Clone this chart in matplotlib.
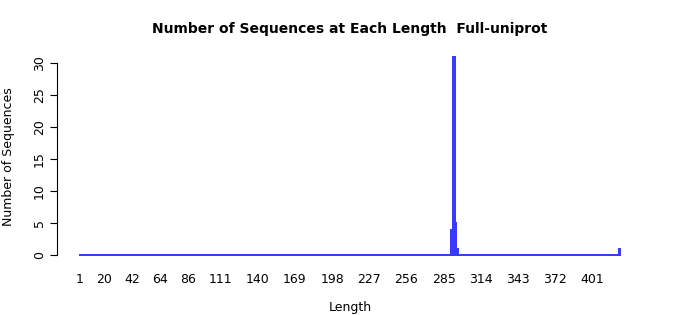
import matplotlib
matplotlib.use("Agg")
import matplotlib.pyplot as plt
import numpy as np

# sequence lengths shown on the x axis (one bar per length)
lengths = np.arange(1, 423)
# lengths that actually have sequences, and how many
hit_lengths = [291, 292, 293, 294, 295, 296, 422]
hit_counts = [4, 4, 31, 5, 1, 1, 1]
tick_labels = [1, 20, 42, 64, 86, 111, 140, 169, 198, 227, 256, 285, 314, 343, 372, 401]

counts = np.zeros(len(lengths))
for l, c in zip(hit_lengths, hit_counts):
    counts[l - 1] = c

W, H = 700, 315
fig = plt.figure(figsize=(7, 3.15), dpi=100)
ax = fig.add_axes([57 / W, (H - 263) / H, (642 - 57) / W, (263 - 49) / H])

ax.bar(lengths, counts, width=1.0, color="#3300cc", edgecolor="#3a3aff",
       linewidth=1.3, antialiased=False)

ax.set_xlim(-16.6, 439.7)
ax.set_ylim(-1.24, 32.24)

# R style axes: only a detached left axis
for side in ["top", "right", "bottom"]:
    ax.spines[side].set_visible(False)
ax.spines["left"].set_bounds(0, 30)
ax.spines["left"].set_linewidth(0.8)
ax.set_yticks(range(0, 31, 5))
ax.tick_params(axis="y", length=5, width=0.8, labelsize=9, pad=3)
for t in ax.get_yticklabels():
    t.set_rotation(90)
    t.set_va("center")

ax.set_xticks(tick_labels)
ax.set_xticklabels([str(t) for t in tick_labels])
ax.tick_params(axis="x", length=0, labelsize=9, pad=7)

fig.text(350 / W, 1 - 29 / H, "Number of Sequences at Each Length  Full-uniprot",
         fontsize=10, fontweight="bold", ha="center", va="center")
fig.text(350 / W, 1 - 307 / H, "Length", fontsize=9, ha="center", va="center")
fig.text(9 / W, 1 - 157 / H, "Number of Sequences", fontsize=9, rotation=90,
         ha="center", va="center")

fig.savefig("out.png", dpi=100)
